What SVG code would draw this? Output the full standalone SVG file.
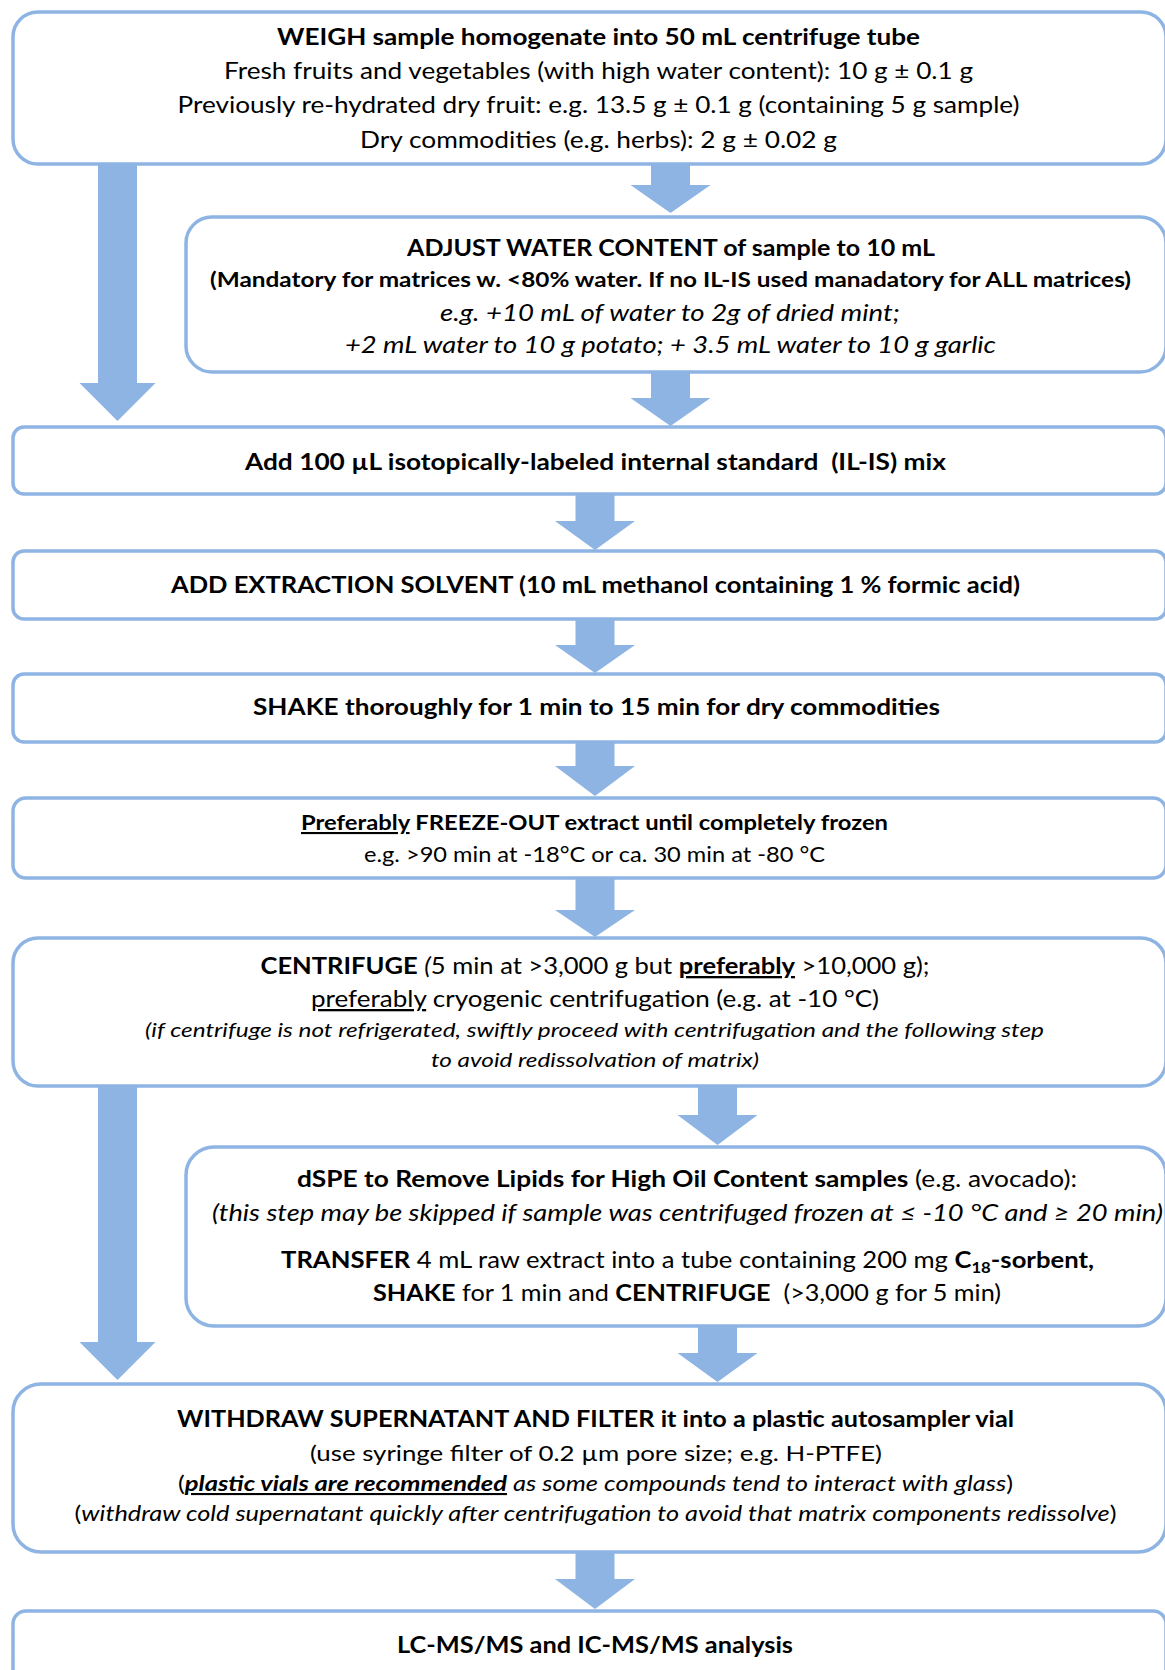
<svg xmlns="http://www.w3.org/2000/svg" width="1165" height="1670" viewBox="0 0 1165 1670">
<style>
.box{fill:#ffffff;stroke:#8EB4E3;stroke-width:3.5}
.arr{fill:#8EB4E3;stroke:none}
text{font-family:Lato,"Open Sans","Liberation Sans",sans-serif;fill:#000;text-anchor:middle;font-size:23px}
.b{font-weight:bold}
.i{font-style:italic}
.s{font-size:21px}
.xs{font-size:20px}
.u{text-decoration:underline}
</style>
<rect width="1165" height="1670" fill="#ffffff"/>
<g id="connectors">
<polygon class="arr" points="98,164 137,164 137,383 155.5,383 117.5,421 79.5,383 98,383"/>
<polygon class="arr" points="651,164 690,164 690,185 710.5,185 670.5,213 630.5,185 651,185"/>
<polygon class="arr" points="651,372 690,372 690,398 710.5,398 670.5,426 630.5,398 651,398"/>
<polygon class="arr" points="575.5,494 614.5,494 614.5,521 635,521 595,550 555,521 575.5,521"/>
<polygon class="arr" points="575.5,619 614.5,619 614.5,645 635,645 595,673 555,645 575.5,645"/>
<polygon class="arr" points="575.5,742 614.5,742 614.5,766 635,766 595,796 555,766 575.5,766"/>
<polygon class="arr" points="575.5,878 614.5,878 614.5,910 635,910 595,937 555,910 575.5,910"/>
<polygon class="arr" points="98,1084 137,1084 137,1342 155.5,1342 117.5,1380 79.5,1342 98,1342"/>
<polygon class="arr" points="698,1086 737,1086 737,1115 757.5,1115 717.5,1145 677.5,1115 698,1115"/>
<polygon class="arr" points="698,1326 737,1326 737,1353 757.5,1353 717.5,1382 677.5,1353 698,1353"/>
<polygon class="arr" points="575.5,1552 614.5,1552 614.5,1579 635,1579 595,1609 555,1579 575.5,1579"/>
</g>
<g id="weigh">
<rect class="box" x="13" y="12" width="1153" height="152" rx="25"/>
<text class="b" x="598.5" y="45" textLength="643" lengthAdjust="spacingAndGlyphs">WEIGH sample homogenate into 50 mL centrifuge tube</text>
<text x="598.5" y="79" textLength="749" lengthAdjust="spacingAndGlyphs">Fresh fruits and vegetables (with high water content): 10 g ± 0.1 g</text>
<text x="598.5" y="113" textLength="842" lengthAdjust="spacingAndGlyphs">Previously re-hydrated dry fruit: e.g. 13.5 g ± 0.1 g (containing 5 g sample)</text>
<text x="598.5" y="148" textLength="477" lengthAdjust="spacingAndGlyphs">Dry commodities (e.g. herbs): 2 g ± 0.02 g</text>
</g>
<g id="adjust">
<rect class="box" x="186" y="217" width="980" height="155" rx="26"/>
<text class="b" x="671" y="256" textLength="528" lengthAdjust="spacingAndGlyphs">ADJUST WATER CONTENT of sample to 10 mL</text>
<text class="b s" x="670.5" y="287" textLength="921" lengthAdjust="spacingAndGlyphs">(Mandatory for matrices w. &lt;80% water. If no IL-IS used manadatory for ALL matrices)</text>
<text class="i" x="670" y="321" textLength="460" lengthAdjust="spacingAndGlyphs">e.g. +10 mL of water to 2g of dried mint;</text>
<text class="i" x="670.5" y="353" textLength="651" lengthAdjust="spacingAndGlyphs">+2 mL water to 10 g potato; + 3.5 mL water to 10 g garlic</text>
</g>
<g id="add-is">
<rect class="box" x="13" y="427" width="1153" height="67" rx="11"/>
<text class="b" x="595.5" y="470" textLength="701" lengthAdjust="spacingAndGlyphs">Add 100 µL isotopically-labeled internal standard&#160; (IL-IS) mix</text>
</g>
<g id="add-solvent">
<rect class="box" x="13" y="551" width="1153" height="68" rx="11"/>
<text class="b" x="595.5" y="593" textLength="849" lengthAdjust="spacingAndGlyphs">ADD EXTRACTION SOLVENT (10 mL methanol containing 1 % formic acid)</text>
</g>
<g id="shake">
<rect class="box" x="13" y="674" width="1153" height="68" rx="11"/>
<text class="b" x="596.5" y="715" textLength="687" lengthAdjust="spacingAndGlyphs">SHAKE thoroughly for 1 min to 15 min for dry commodities</text>
</g>
<g id="freeze">
<rect class="box" x="13" y="798" width="1153" height="80" rx="13"/>
<text class="b s" x="594.5" y="830" textLength="587" lengthAdjust="spacingAndGlyphs"><tspan class="u">Preferably</tspan> FREEZE-OUT extract until completely frozen</text>
<text class="s" x="594.5" y="862" textLength="461" lengthAdjust="spacingAndGlyphs">e.g. &gt;90 min at -18°C or ca. 30 min at -80 °C</text>
</g>
<g id="centrifuge">
<rect class="box" x="13" y="938" width="1153" height="148" rx="25"/>
<text x="595" y="974" textLength="669" lengthAdjust="spacingAndGlyphs"><tspan class="b">CENTRIFUGE</tspan> <tspan class="i">(</tspan>5 min at &gt;3,000 g but <tspan class="b u">preferably</tspan> &gt;10,000 g);</text>
<text x="595" y="1007" textLength="568" lengthAdjust="spacingAndGlyphs"><tspan class="u">preferably</tspan> cryogenic centrifugation (e.g. at -10 °C)</text>
<text class="i xs" x="594.5" y="1037" textLength="899" lengthAdjust="spacingAndGlyphs">(if centrifuge is not refrigerated, swiftly proceed with centrifugation and the following step</text>
<text class="i xs" x="595" y="1067" textLength="328" lengthAdjust="spacingAndGlyphs">to avoid redissolvation of matrix)</text>
</g>
<g id="dspe">
<rect class="box" x="186" y="1147" width="980" height="179" rx="28"/>
<text x="687" y="1187" textLength="780" lengthAdjust="spacingAndGlyphs"><tspan class="b">dSPE to Remove Lipids for High Oil Content samples</tspan> (e.g. avocado):</text>
<text class="i" x="687.5" y="1221" textLength="951" lengthAdjust="spacingAndGlyphs">(this step may be skipped if sample was centrifuged frozen at ≤ -10 °C and ≥ 20 min)</text>
<text x="687.5" y="1268" textLength="813" lengthAdjust="spacingAndGlyphs"><tspan class="b">TRANSFER</tspan> 4 mL raw extract into a tube containing 200 mg <tspan class="b">C</tspan><tspan class="b" font-size="15" dy="5">18</tspan><tspan class="b" dy="-5">-sorbent,</tspan></text>
<text x="687" y="1301" textLength="628" lengthAdjust="spacingAndGlyphs"><tspan class="b">SHAKE</tspan> for 1 min and <tspan class="b">CENTRIFUGE</tspan>&#160; (&gt;3,000 g for 5 min)</text>
</g>
<g id="withdraw">
<rect class="box" x="13" y="1384" width="1153" height="168" rx="28"/>
<text class="b" x="595.5" y="1427" textLength="837" lengthAdjust="spacingAndGlyphs">WITHDRAW SUPERNATANT AND FILTER it into a plastic autosampler vial</text>
<text class="s" x="596" y="1461" textLength="572" lengthAdjust="spacingAndGlyphs">(use syringe filter of 0.2 µm pore size; e.g. H-PTFE)</text>
<text class="s" x="595.5" y="1491" textLength="835" lengthAdjust="spacingAndGlyphs">(<tspan class="b i u">plastic vials are recommended</tspan><tspan class="i"> as some compounds tend to interact with glass</tspan>)</text>
<text class="s" x="595.5" y="1521" textLength="1042" lengthAdjust="spacingAndGlyphs">(<tspan class="i">withdraw cold supernatant quickly after centrifugation to avoid that matrix components redissolve</tspan>)</text>
</g>
<g id="analysis">
<rect class="box" x="13" y="1611" width="1153" height="100" rx="13"/>
<text class="b" x="595" y="1653" textLength="396" lengthAdjust="spacingAndGlyphs">LC-MS/MS and IC-MS/MS analysis</text>
</g>
</svg>
